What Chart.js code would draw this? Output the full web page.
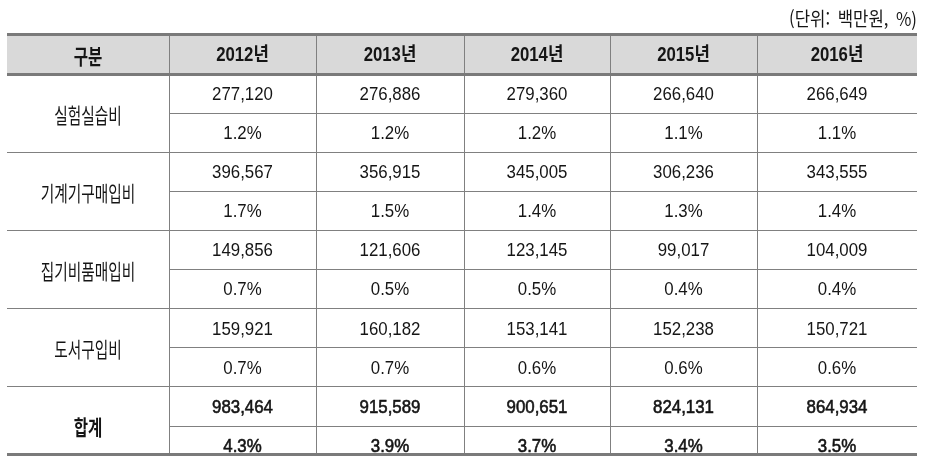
<!DOCTYPE html>
<html lang="ko">
<head>
<meta charset="utf-8">
<title>연구장비 관련 지출 현황</title>
<script src="https://cdn.jsdelivr.net/npm/chart.js@4/dist/chart.umd.min.js"></script>
<style>
  html, body { margin: 0; padding: 0; background: #fff; }
  #wrap { position: relative; width: 944px; height: 465px; }
</style>
</head>
<body>
<div id="wrap"><canvas id="tableChart" width="944" height="465"></canvas></div>
<script>
// 표 데이터
const years = ['2012년', '2013년', '2014년', '2015년', '2016년'];
const categories = ['실험실습비', '기계기구매입비', '집기비품매입비', '도서구입비', '합계'];

const labAmount = [277120, 276886, 279360, 266640, 266649];
const labShare = [1.2, 1.2, 1.2, 1.1, 1.1];
const machineAmount = [396567, 356915, 345005, 306236, 343555];
const machineShare = [1.7, 1.5, 1.4, 1.3, 1.4];
const fixtureAmount = [149856, 121606, 123145, 99017, 104009];
const fixtureShare = [0.7, 0.5, 0.5, 0.4, 0.4];
const bookAmount = [159921, 160182, 153141, 152238, 150721];
const bookShare = [0.7, 0.7, 0.6, 0.6, 0.6];
const totalAmount = [983464, 915589, 900651, 824131, 864934];
const totalShare = [4.3, 3.9, 3.7, 3.4, 3.5];

const headFirst = '구분';
const unitText = '(단위:  백만원,  %)';

const amountRows = [labAmount, machineAmount, fixtureAmount, bookAmount, totalAmount];
const shareRows = [labShare, machineShare, fixtureShare, bookShare, totalShare];

// 레이아웃
const colWidths = [162, 147, 148, 146, 147, 160];
const colEdges = colWidths.reduce((a, w) => { a.push(a[a.length - 1] + w); return a; }, [0]);
const colCenters = colWidths.map((w, i) => colEdges[i] + w / 2);
const headerH = 1.03;
const rowsEnd = 9.73;

const lineColor = '#808080';
const thickColor = '#7a7a7a';
const headFill = '#d9d9d9';
const textColor = '#151515';

// 글꼴: 장평(가로 비율)을 함께 둔다
const numStyle = { font: '18.5px "Liberation Sans", "Noto Sans CJK KR", sans-serif', sx: 0.91 };
const numBoldStyle = { font: '18.5px "Liberation Sans", "Noto Sans CJK KR", sans-serif', sx: 0.91, stroke: 0.6 };
const headStyle = { font: 'bold 19.5px "Liberation Sans", "Noto Sans CJK KR", sans-serif', sx: 0.86 };
const labelStyle = { font: '21px "Noto Sans CJK KR", sans-serif', sx: 0.7 };
const labelBoldStyle = { font: 'bold 21px "Noto Sans CJK KR", sans-serif', sx: 0.74 };
const unitStyle = { font: '19px "Noto Sans CJK KR", sans-serif', sx: 0.88 };

const fmtAmount = v => v.toLocaleString('en-US');
const fmtShare = v => v.toFixed(1) + '%';

// 셀 -> 데이터 포인트
const headPoints = [{ x: colCenters[0], y: -headerH / 2, text: headFirst, style: labelBoldStyle }]
  .concat(years.map((yr, i) => ({ x: colCenters[i + 1], y: -headerH / 2, text: yr, style: headStyle })));

const labelPoints = categories.map((c, g) => ({
  x: colCenters[0], y: 2 * g + 1, text: c,
  style: g === categories.length - 1 ? labelBoldStyle : labelStyle
}));

const amountPoints = [];
const sharePoints = [];
amountRows.forEach((row, g) => {
  const st = g === amountRows.length - 1 ? numBoldStyle : numStyle;
  row.forEach((v, c) => {
    amountPoints.push({ x: colCenters[c + 1], y: 2 * g + 0.5, text: fmtAmount(v), style: st });
    sharePoints.push({ x: colCenters[c + 1], y: 2 * g + 1.5, text: fmtShare(shareRows[g][c]), style: st });
  });
});

function drawText(ctx, text, px, py, style, align) {
  ctx.save();
  ctx.translate(px, py);
  ctx.scale(style.sx, 1);
  ctx.font = style.font;
  ctx.textAlign = align || 'center';
  ctx.textBaseline = 'middle';
  ctx.fillStyle = textColor;
  ctx.fillText(text, 0, 0);
  if (style.stroke) {
    ctx.strokeStyle = textColor;
    ctx.lineWidth = style.stroke;
    ctx.strokeText(text, 0, 0);
  }
  ctx.restore();
}

const tablePlugin = {
  id: 'tablePlugin',
  beforeDatasetsDraw(chart) {
    const { ctx, scales: { x, y } } = chart;
    const left = x.getPixelForValue(0);
    const right = x.getPixelForValue(colEdges[colEdges.length - 1]);
    const yTop = y.getPixelForValue(-headerH);
    const yHead = y.getPixelForValue(0);
    const yBottom = y.getPixelForValue(rowsEnd);
    ctx.save();

    // 머리행 배경
    ctx.fillStyle = headFill;
    ctx.fillRect(left, yTop, right - left, yHead - yTop);

    // 얇은 선
    ctx.strokeStyle = lineColor;
    ctx.lineWidth = 1;
    ctx.beginPath();
    for (let i = 1; i < colEdges.length - 1; i++) {
      const px = Math.floor(x.getPixelForValue(colEdges[i])) + 0.5;
      ctx.moveTo(px, yTop);
      ctx.lineTo(px, yBottom);
    }
    for (let k = 1; k < Math.ceil(rowsEnd); k++) {
      const py = Math.floor(y.getPixelForValue(k)) + 0.5;
      const from = k % 2 === 1 ? x.getPixelForValue(colEdges[1]) : left;
      ctx.moveTo(from, py);
      ctx.lineTo(right, py);
    }
    ctx.stroke();

    // 굵은 선
    ctx.fillStyle = thickColor;
    [yTop, yHead, yBottom].forEach(py => {
      ctx.fillRect(left, Math.round(py - 1.5), right - left, 3);
    });
    ctx.restore();

    // 단위
    drawText(ctx, unitText, right, yTop - 16, unitStyle, 'right');
  },
  afterDatasetsDraw(chart) {
    const { ctx } = chart;
    chart.data.datasets.forEach((ds, i) => {
      const meta = chart.getDatasetMeta(i);
      meta.data.forEach((pt, j) => {
        const cell = ds.data[j];
        drawText(ctx, cell.text, pt.x, pt.y + 1, cell.style);
      });
    });
  }
};

new Chart(document.getElementById('tableChart'), {
  type: 'scatter',
  data: {
    datasets: [
      { label: 'head', data: headPoints },
      { label: 'category', data: labelPoints },
      { label: 'amount', data: amountPoints },
      { label: 'share', data: sharePoints }
    ]
  },
  options: {
    responsive: false,
    animation: false,
    events: [],
    elements: { point: { radius: 0, hoverRadius: 0 } },
    layout: { padding: { left: 7, right: 27, top: 34.5, bottom: 10.5 } },
    scales: {
      x: { type: 'linear', display: false, min: 0, max: colEdges[colEdges.length - 1] },
      y: { type: 'linear', display: false, min: -headerH, max: rowsEnd, reverse: true }
    },
    plugins: {
      legend: { display: false },
      tooltip: { enabled: false }
    }
  },
  plugins: [tablePlugin]
});
</script>
</body>
</html>
